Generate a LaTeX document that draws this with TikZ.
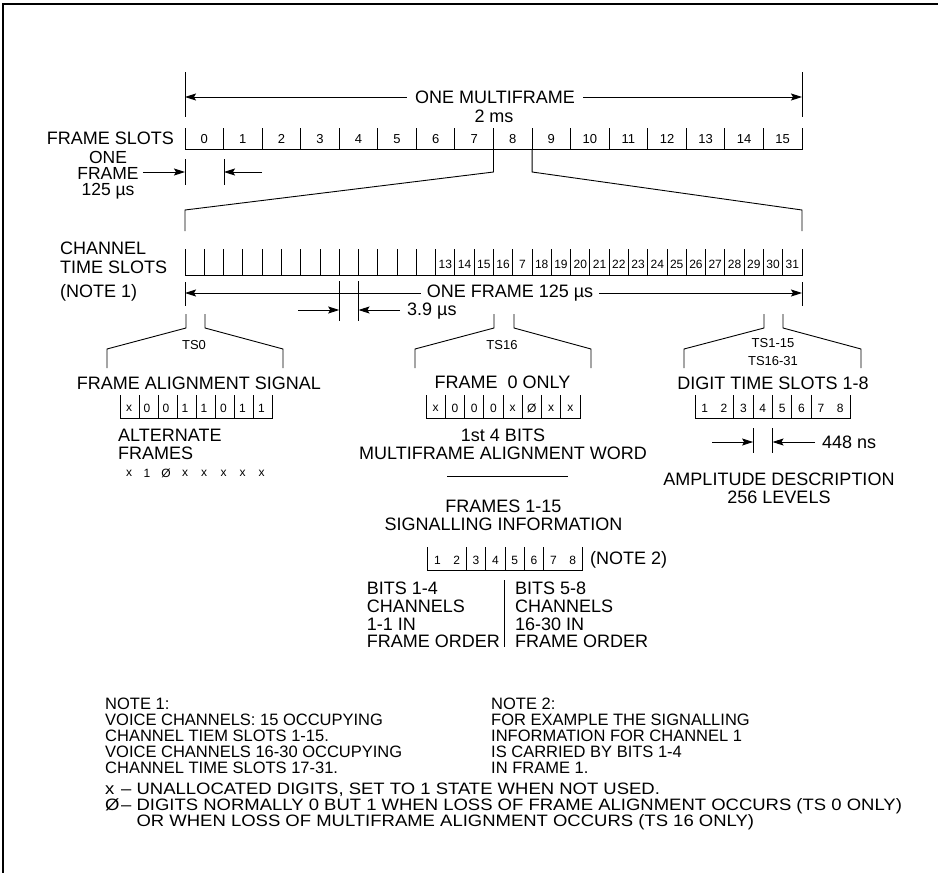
\documentclass[tikz,border=0pt]{standalone}
\usepackage{fontspec}
\setmainfont{Liberation Sans}
\newfontfamily\legendfont[FakeStretch=1.12]{Liberation Sans}
\usetikzlibrary{arrows.meta}

\begin{document}
\begin{tikzpicture}[x=1pt,y=-1pt,
  ln/.style={line width=0.9pt},
  arr/.style={line width=0.9pt,-{Stealth[length=11pt,width=7pt,inset=2pt]}},
  lbl/.style={inner sep=0pt,align=center,font=\fontsize{18}{17.8}\selectfont},
  sml/.style={inner sep=0pt,font=\fontsize{13}{16}\selectfont},
  dig/.style={inner sep=0pt,font=\fontsize{12}{14}\selectfont},
  note/.style={inner sep=0pt,align=left,anchor=west,font=\fontsize{16.5}{16}\selectfont}]
  \useasboundingbox (0,0) rectangle (938,873);
  \draw[line width=2.4pt] (3,873) -- (3,4) -- (938,4);

  % one multiframe
  \coordinate (mfL) at (185,97);
  \coordinate (mfR) at (802,97);
  \draw[ln] (185,72) -- (185,117);
  \draw[ln] (802,72) -- (802,117);
  \node[lbl,inner xsep=8pt] (mf) at (495,97) {ONE MULTIFRAME};
  \draw[arr] (mf.west) -- (mfL);
  \draw[arr] (mf.east) -- (mfR);
  \node[lbl] (ms) at (494,116) {2 ms};

  % frame slots
  \node[lbl,anchor=east] (fsl) at (174,138) {FRAME SLOTS};
  \draw[ln] (185,128) -- (185,149) -- (802,149) -- (802,128);
  \foreach \i in {1,...,15} \draw[ln] ({185+38.5625*\i},128) -- ++(0,21);
  \foreach \i in {0,...,15} \node[sml] (fs\i) at ({185+38.5625*(\i+0.5)},139) {\i};

  % one frame
  \node[lbl,inner xsep=4pt,font=\fontsize{17.5}{16.2}\selectfont] (onef) at (108,175) {ONE\\FRAME\\125 µs};
  \coordinate (ofa) at (185,172);
  \coordinate (ofb) at (224,172);
  \coordinate (ofc) at (262,172);
  \draw[ln] (185,159) -- (185,185);
  \draw[ln] (224,159) -- (224,185);
  \draw[arr] (onef.east |- ofa) -- (ofa);
  \draw[arr] (ofc) -- (ofb);

  % frame 8 opened up
  \draw[ln] (493.5,149) -- (493.5,172) -- (185,210) -- (185,231);
  \draw[ln] (532.1,149) -- (532.1,172) -- (802,210) -- (802,231);

  % channel time slots
  \node[lbl,align=left,anchor=west,font=\fontsize{18}{19}\selectfont] (cts) at (60,257.5) {CHANNEL\\TIME SLOTS};
  \node[lbl,anchor=west] (nt1) at (60,293) {(NOTE 1)};
  \draw[ln] (185,249) -- (185,275) -- (802,275) -- (802,249);
  \foreach \i in {1,...,31} \draw[ln] ({185+19.28125*\i},249) -- ++(0,26);
  \foreach \i in {13,14,15,16,18,19,20,...,31} \node[dig] (ch\i) at ({185+19.28125*(\i+0.5)},264) {\i};
  \node[dig] (ch17) at ({185+19.28125*17.5},264) {7};

  % one frame 125 us
  \coordinate (ofrL) at (185,293);
  \coordinate (ofrR) at (802,293);
  \draw[ln] (185,282) -- (185,306);
  \draw[ln] (802,282) -- (802,306);
  \node[lbl,inner xsep=6pt] (ofr) at (510,293) {ONE FRAME 125 µs};
  \draw[arr] (ofr.west) -- (ofrL);
  \draw[arr] (ofr.east) -- (ofrR);

  % 3.9 us
  \coordinate (tsa) at (298,310);
  \coordinate (tsb) at (339.2,310);
  \coordinate (tsc) at (358.5,310);
  \draw[ln] (339.2,281) -- (339.2,321);
  \draw[ln] (358.5,281) -- (358.5,321);
  \draw[arr] (tsa) -- (tsb);
  \node[lbl,anchor=west,inner xsep=7pt] (t39) at (400,311) {3.9 µs};
  \draw[arr] (t39.west |- tsc) -- (tsc);

  % brackets
  \foreach \a/\b/\c/\d in {107/186/205/283,415/494/514/591,684/764/783/861}
    \draw[ln] (\a,368) -- (\a,349) -- (\b,328) -- (\b,314)
              (\c,314) -- (\c,328) -- (\d,349) -- (\d,368);
  \node[sml] (ts0) at (194,345) {TS0};
  \node[sml] (ts16) at (502,345) {TS16};
  \node[sml] (tsa15) at (773,343) {TS1-15};
  \node[sml] (tsb31) at (773,361) {TS16-31};

  % TS0
  \node[lbl] (fas) at (199,383) {FRAME ALIGNMENT SIGNAL};
  \draw[ln] (120.5,395) -- (120.5,418) -- (272.7,418) -- (272.7,395);
  \foreach \i in {1,...,7} \draw[ln] ({120.5+19.025*\i},395) -- ++(0,23);
  \foreach \x/\d [count=\k] in {129/x,147/0,166/0,185/1,204/1,223.5/0,242.5/1,261.5/1}
    \node[dig] (fa\k) at (\x,408) {\d};
  \node[lbl,align=left,anchor=west] (alt) at (118,444) {ALTERNATE\\FRAMES};
  \foreach \x/\d [count=\k] in {129/x,147/1,166/Ø,185/x,204/x,223.5/x,242.5/x,261.5/x}
    \node[dig] (af\k) at (\x,473) {\d};

  % TS16
  \node[lbl] (f0o) at (502.5,382) {FRAME\ \ 0 ONLY};
  \draw[ln] (426,395) -- (426,418) -- (580,418) -- (580,395);
  \foreach \i in {1,...,7} \draw[ln] ({426+19.25*\i},395) -- ++(0,23);
  \foreach \d [count=\k] in {x,0,0,0,x,Ø,x,x}
    \node[dig] (mw\k) at ({426+19.25*(\k-0.5)},408) {\d};
  \node[lbl] (maw) at (503,444) {1st 4 BITS\\MULTIFRAME ALIGNMENT WORD};
  \draw[ln] (447,476) -- (568,476);
  \node[lbl] (sig) at (503.5,515) {FRAMES 1-15\\SIGNALLING INFORMATION};
  \draw[ln] (427.7,547) -- (427.7,570) -- (582.3,570) -- (582.3,547);
  \foreach \i in {2,...,6} \draw[ln] ({427.7+19.33*\i},547) -- ++(0,23);
  \foreach \k in {1,...,8} \node[dig] (sb\k) at ({427.7+19.33*(\k-0.5)},560) {\k};
  \node[lbl,anchor=west] (nt2) at (590,560) {(NOTE 2)};
  \draw[ln] (504,580) -- (504,647);
  \node[lbl,align=left,anchor=east] (bl) at (500,615) {BITS 1-4\\CHANNELS\\1-1 IN\\FRAME ORDER};
  \node[lbl,align=left,anchor=west] (br) at (515,615) {BITS 5-8\\CHANNELS\\16-30 IN\\FRAME ORDER};

  % TS1-15, TS16-31
  \node[lbl] (dts) at (773,383) {DIGIT TIME SLOTS 1-8};
  \draw[ln] (695,395) -- (695,418) -- (850,418) -- (850,395);
  \foreach \i in {2,...,6} \draw[ln] ({695+19.375*\i},395) -- ++(0,23);
  \foreach \k in {1,...,8} \node[dig] (dt\k) at ({695+19.375*(\k-0.5)},408) {\k};
  \coordinate (nsa) at (712,442);
  \coordinate (nsb) at (753.1,442);
  \coordinate (nsc) at (772.5,442);
  \draw[ln] (753.1,428) -- (753.1,453);
  \draw[ln] (772.5,428) -- (772.5,453);
  \draw[arr] (nsa) -- (nsb);
  \node[lbl,anchor=west,inner xsep=7pt] (t448) at (815,442) {448 ns};
  \draw[arr] (t448.west) -- (nsc);
  \node[lbl] (amp) at (779,488.5) {AMPLITUDE DESCRIPTION\\256 LEVELS};

  % notes
  \node[note] (n1) at (105,736) {NOTE 1:\\VOICE CHANNELS: 15 OCCUPYING\\CHANNEL TIEM SLOTS 1-15.\\VOICE CHANNELS 16-30 OCCUPYING\\CHANNEL TIME SLOTS 17-31.};
  \node[note] (n2) at (491,736) {NOTE 2:\\FOR EXAMPLE THE SIGNALLING\\INFORMATION FOR CHANNEL 1\\IS CARRIED BY BITS 1-4\\IN FRAME 1.};
  \node[note,font=\legendfont\fontsize{16.5}{16}\selectfont] (leg) at (105,806) {\makebox[16pt][l]{x}– UNALLOCATED DIGITS, SET TO 1 STATE WHEN NOT USED.\\
    \makebox[16pt][l]{Ø}– DIGITS NORMALLY 0 BUT 1 WHEN LOSS OF FRAME ALIGNMENT OCCURS (TS 0 ONLY)\\
    \hphantom{\makebox[16pt][l]{Ø}– }OR WHEN LOSS OF MULTIFRAME ALIGNMENT OCCURS (TS 16 ONLY)};
\end{tikzpicture}
\end{document}
